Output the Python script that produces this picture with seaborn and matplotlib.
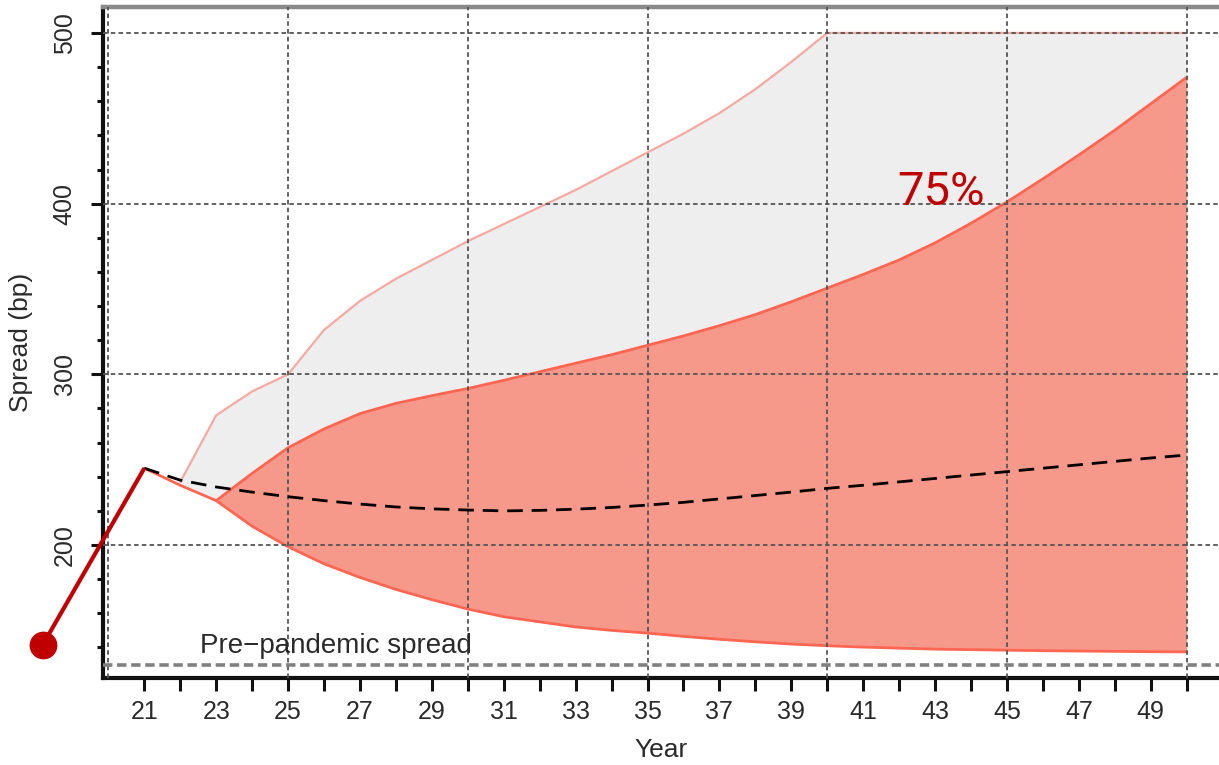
import matplotlib
matplotlib.use("Agg")
import matplotlib.pyplot as plt
from matplotlib.ticker import FixedLocator, NullFormatter
import numpy as np
import pandas as pd
import seaborn as sns

# ---- data -------------------------------------------------------------
years = list(range(21, 51))
median = [245, 238, 234, 231, 228.3, 226, 224, 222.3, 221.2, 220.5,
          220, 220.3, 221, 222, 223.4, 225, 227, 229, 231, 233.2,
          235, 237, 239, 241, 243, 245, 247, 249, 251, 252.7]
lower = [245, 235, 226, 211, 199, 189, 181, 174, 168, 162.5,
         158, 155, 152, 150, 148.4, 146.5, 144.8, 143.3, 142, 141,
         140.2, 139.6, 139, 138.7, 138.4, 138.1, 137.9, 137.7, 137.5, 137.4]

band_years = list(range(23, 51))
upper_75 = [226, 242, 257, 268, 277, 283, 287.5, 291.7, 296.5, 301.5,
            306.5, 311.5, 317, 322.5, 328.5, 335, 342.5, 350.5, 358.5, 367,
            377, 388.5, 401, 414.5, 428.5, 443, 458.5, 474]

outer_years = list(range(22, 51))
upper_outer = [237, 276, 290, 300, 326, 343, 356, 367, 378, 388,
               398, 408, 419, 430, 441, 453, 467, 483, 500, 500,
               500, 500, 500, 500, 500, 500, 500, 500, 500]

pre_pandemic = 130
pre_label = "Pre\u2212pandemic spread"
band_label = "75%"
x_label = "Year"
y_label = "Spread (bp)"
label_years = list(range(21, 50, 2))
minor_years = list(range(22, 51, 2))
grid_years = list(range(20, 51, 5))
y_major = [200, 300, 400, 500]
y_minor = [v for v in range(140, 501, 20) if v not in y_major]

# pointer from the off-axis marker to the first observation
pointer_x = [18.17, years[0]]
pointer_y = [141.4, median[0]]

# ---- frame -------------------------------------------------------------
df = pd.DataFrame({"year": years, "median": median, "lower": lower})
df = df.merge(pd.DataFrame({"year": band_years, "upper_75": upper_75}), on="year", how="left")
df = df.merge(pd.DataFrame({"year": outer_years, "upper_outer": upper_outer}), on="year", how="left")

sns.set_theme(style="white")
plt.rcParams["font.family"] = ["Liberation Sans", "DejaVu Sans"]
text_col = "#2a2a2a"

W, H = 1219, 765
fig = plt.figure(figsize=(W / 100, H / 100), dpi=100)
ax = fig.add_axes([103 / W, 1 - 678 / H, 1 - 103 / W, (678 - 7) / H])

# bands
outer = df.dropna(subset=["upper_outer"])
ax.fill_between(outer["year"], outer["lower"], outer["upper_outer"],
                color="#EEEEEE", lw=0, zorder=1)
inner = df.dropna(subset=["upper_75"])
ax.fill_between(inner["year"], inner["lower"], inner["upper_75"],
                color="#F7998A", lw=0, zorder=2)

# band edges
sns.lineplot(data=outer, x="year", y="upper_outer", color="#F5A9A0", lw=1.6, ax=ax, zorder=3)
sns.lineplot(data=inner, x="year", y="upper_75", color="#FF6652", lw=2.0, ax=ax, zorder=3)
sns.lineplot(data=df, x="year", y="lower", color="#FF6652", lw=2.0, ax=ax, zorder=3)

# grid
for gx in grid_years:
    ax.axvline(gx, color="#555555", lw=1.3, ls=(0, (2.5, 1.8)), zorder=4)
for gy in y_major:
    ax.axhline(gy, color="#555555", lw=1.3, ls=(0, (2.5, 1.8)), zorder=4)

# pre-pandemic reference
ax.axhline(pre_pandemic, color="#808080", lw=2.6, ls=(0, (2.6, 1.3)), zorder=4)
ax.text(22.55, 136.5, pre_label, fontsize=20, color=text_col,
        ha="left", va="baseline", zorder=6)

# median path
sns.lineplot(data=df, x="year", y="median", color="black", lw=2.0,
             ls=(0, (5.6, 3.2)), ax=ax, zorder=5)

# pointer and marker
ax.plot(pointer_x, pointer_y, color="#C00000", lw=3.0, clip_on=False, zorder=7,
        solid_capstyle="butt")
ax.plot(pointer_x[:1], pointer_y[:1], "o", color="#C00000", ms=19,
        clip_on=False, zorder=7)

ax.text(41.94, 399.2, band_label, fontsize=34, color="#C00000",
        family=["Roboto", "DejaVu Sans"], ha="left", va="baseline", zorder=6)

# axes
ax.set_xlim(19.85, 50.9)
ax.set_ylim(122.1, 515.2)

ax.xaxis.set_major_locator(FixedLocator(label_years))
ax.xaxis.set_minor_locator(FixedLocator(minor_years))
ax.set_xticklabels([str(y) for y in label_years])
ax.xaxis.set_minor_formatter(NullFormatter())
ax.yaxis.set_major_locator(FixedLocator(y_major))
ax.yaxis.set_minor_locator(FixedLocator(y_minor))
ax.set_yticklabels([str(v) for v in y_major], rotation=90, va="center")

ax.tick_params(axis="x", which="both", direction="out", length=9, width=2.2,
               color="#111111", pad=7, labelsize=18, labelcolor=text_col)
ax.tick_params(axis="y", which="major", direction="out", length=9, width=2.2,
               color="#111111", pad=10, labelsize=18, labelcolor=text_col)
ax.tick_params(axis="y", which="minor", direction="out", length=4.5, width=2.2,
               color="#111111")
ax.tick_params(bottom=True, left=True, which="both")

ax.set_xlabel(x_label, fontsize=19, color=text_col, labelpad=10)
ax.set_ylabel(y_label, fontsize=19, color=text_col, labelpad=14)

for side in ("left", "bottom"):
    ax.spines[side].set_color("#111111")
    ax.spines[side].set_linewidth(3)
ax.spines["top"].set_color("#8a8a8a")
ax.spines["top"].set_linewidth(3.2)
ax.spines["right"].set_visible(False)

fig.savefig("out.png", dpi=100)
